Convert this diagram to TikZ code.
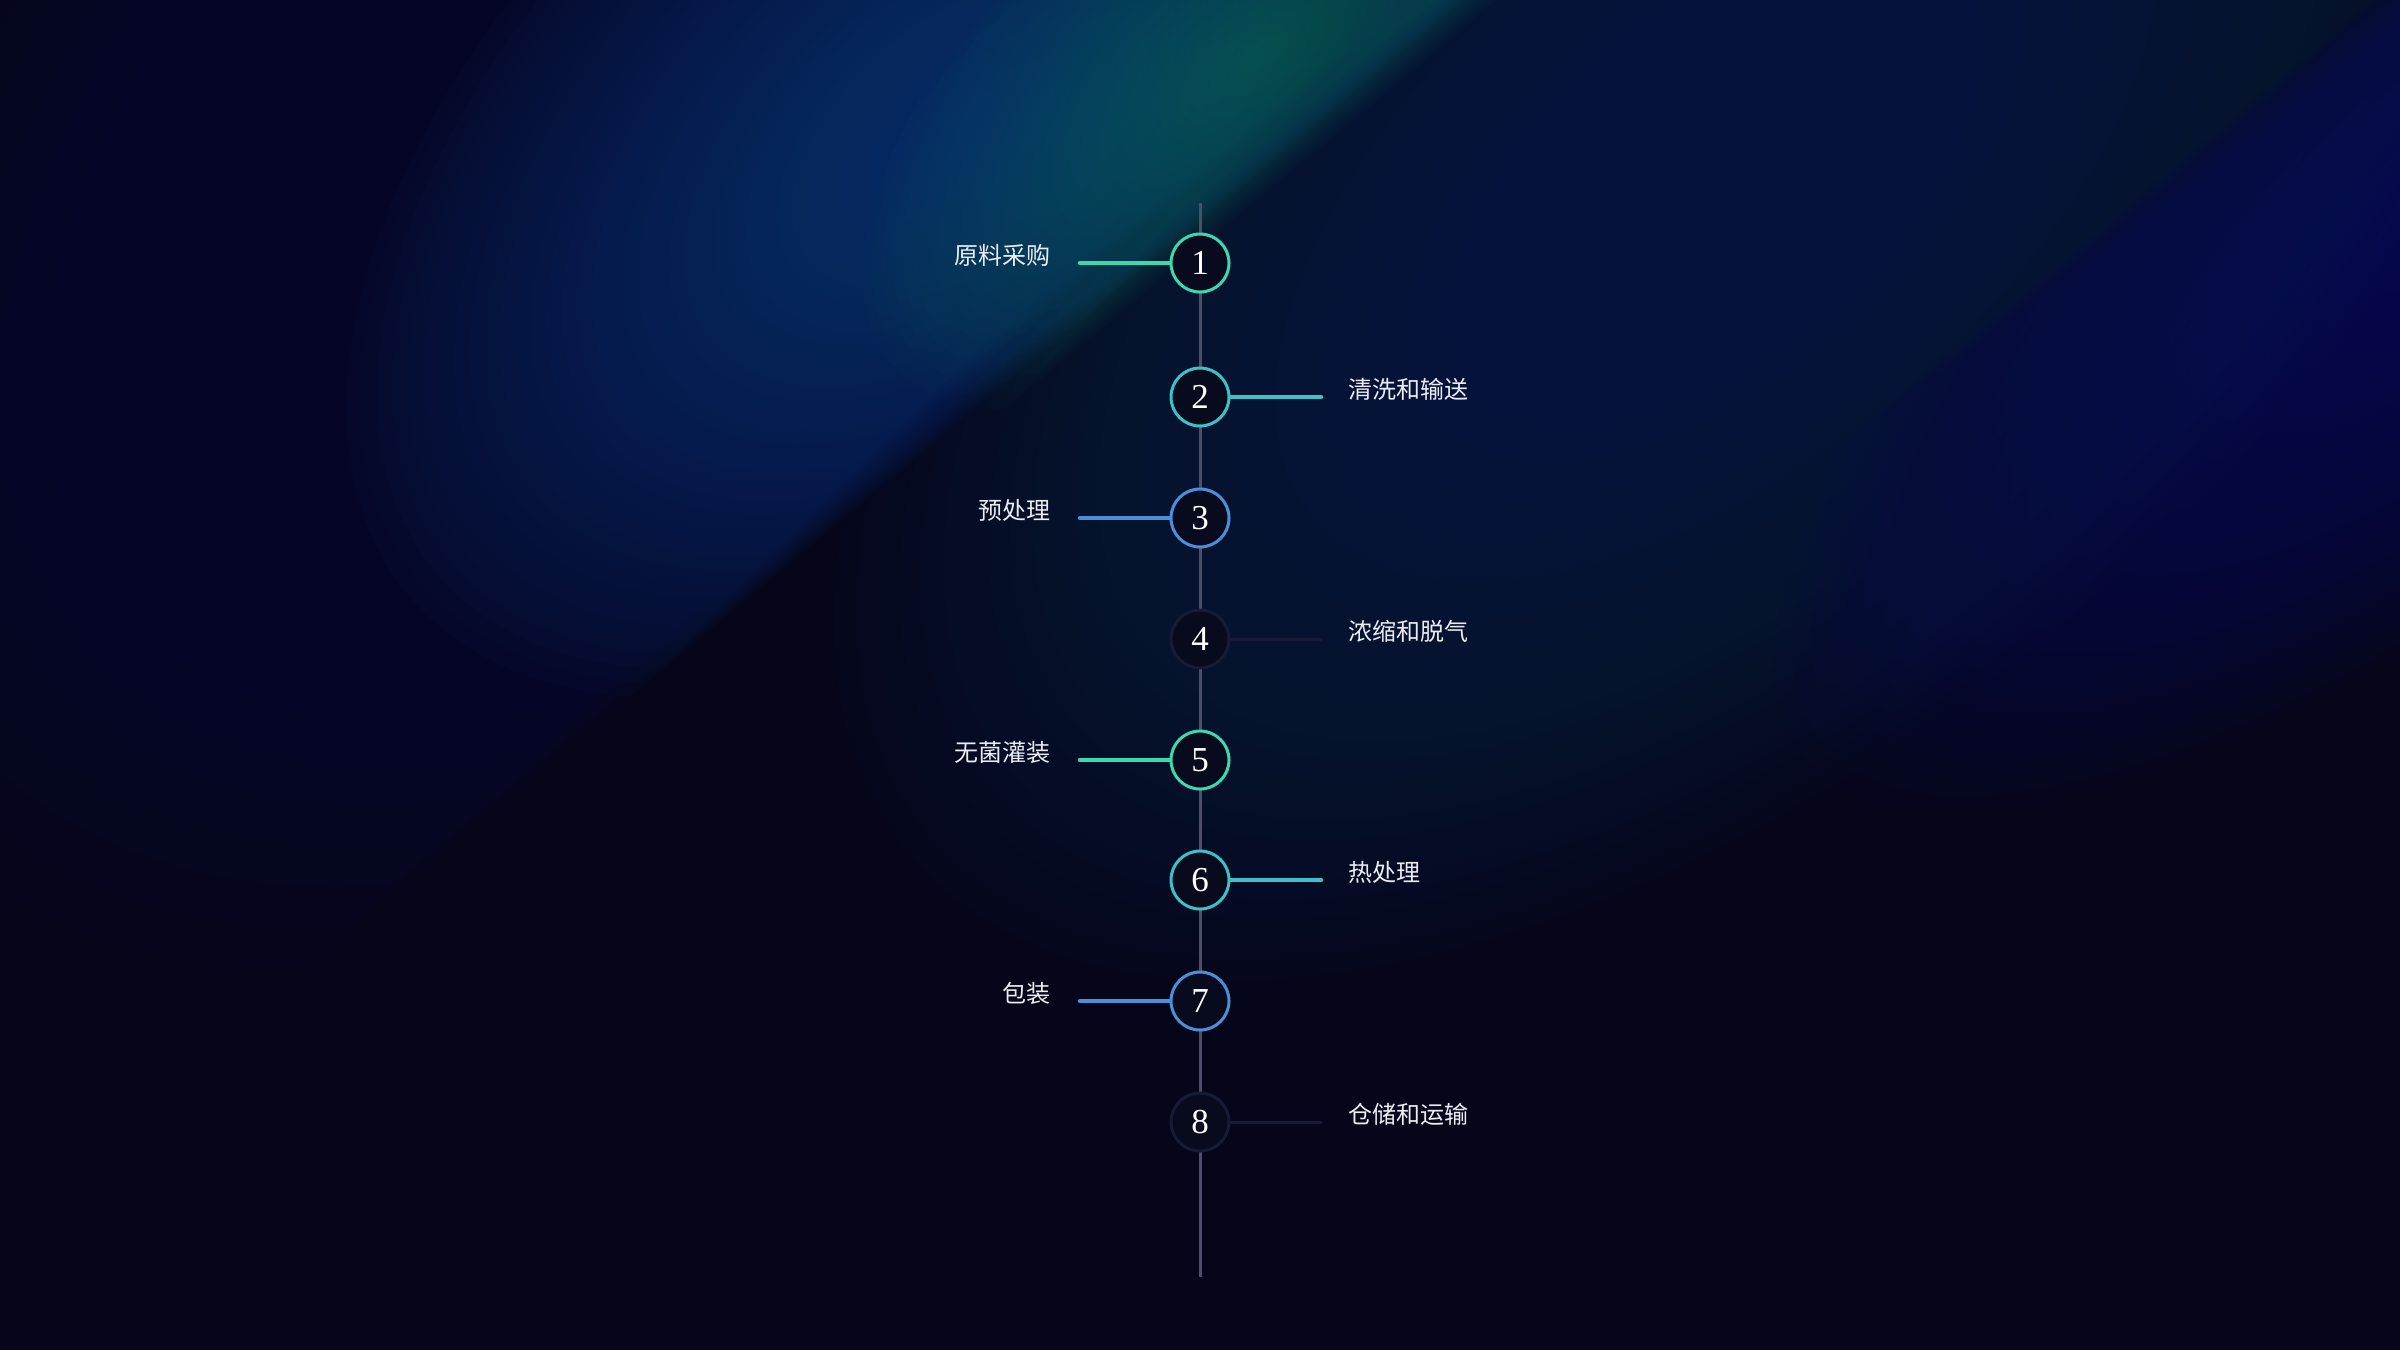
\documentclass[tikz,border=0pt]{standalone}
\usepackage{fontspec}
\newfontfamily\cjk{Noto Sans CJK SC}
\newfontfamily\numfont{Liberation Serif}
\definecolor{bgbase}{HTML}{05061A}
\definecolor{glowblue}{HTML}{0A4385}
\definecolor{glowteal}{HTML}{13776E}
\definecolor{glownavy}{HTML}{0E2C55}
\definecolor{glowwash}{HTML}{0C2246}
\definecolor{glowindigo}{HTML}{0A0C68}
\definecolor{cgreen}{HTML}{3DD8AE}
\definecolor{ccyan}{HTML}{3CC2C6}
\definecolor{cblue}{HTML}{4B8FD8}
\definecolor{cdim}{HTML}{161B36}
\definecolor{nodefill}{HTML}{080A1E}
\definecolor{spinecol}{HTML}{4D4F68}
\definecolor{lblcol}{HTML}{ECEDF3}
% soft glow: #1,#2 centre (u,v); #3,#4 semi-axes; #5 colour; #6 opacity; #7 clip v-min; #8 clip v-max
\newcommand\softglow[8]{%
  \foreach \k in {1,...,40}{%
    \begin{scope}
      \clip (-4000,{#7}) rectangle (4000,{#8});
      \fill[#5, fill opacity=#6] (#1,#2) ellipse ({#3pt/40*\k} and {#4pt/40*\k});
    \end{scope}}}
\begin{document}
\begin{tikzpicture}[x=1pt,y=-1pt,
  stepnode/.style={circle, minimum size=58pt, inner sep=0pt, line width=3pt, fill=nodefill, text=white, font=\numfont\fontsize{35}{35}\selectfont},
  conn/.style={line width=4.5pt, line cap=round},
  dimconn/.style={line width=3pt, line cap=round, cdim},
  spine/.style={line width=3pt, spinecol},
  lbl/.style={text=lblcol, font=\cjk\fontsize{24}{28}\selectfont, inner sep=0pt}]
\useasboundingbox (0,0) rectangle (2400,1350);
\begin{scope}
\clip (0,0) rectangle (2400,1350);
\fill[bgbase] (0,0) rectangle (2400,1350);
% background glows in a frame along the diagonal (u up-right, v down-right)
\begin{scope}[shift={(1435,0)}, rotate=39.8]
  % band between the two diagonals
  \softglow{100}{320}{1050}{560}{glownavy}{0.04}{-40+40*\k/40}{4000}
  % faint navy wash, upper left
  \softglow{-700}{-380}{1000}{650}{glowwash}{0.03}{-4000}{-60+80*\k/40}
  % indigo, right of second diagonal
  \softglow{700}{820}{900}{330}{glowindigo}{0.04}{680-80*\k/40}{4000}
  % blue, left of first diagonal
  \softglow{-450}{-200}{720}{420}{glowblue}{0.037}{-4000}{-60+80*\k/40}
  % teal near the top
  \softglow{-170}{-70}{480}{230}{glowteal}{0.028}{-4000}{-40+80*\k/40}
\end{scope}
\end{scope}
% spine
\coordinate (top) at (1200,203);
\coordinate (bot) at (1200,1277);
\draw[spine] (top) -- (bot);
% nodes
\node[stepnode, draw=cgreen] (n1) at (1200,263) {1};
\node[stepnode, draw=ccyan]  (n2) at (1200,397) {2};
\node[stepnode, draw=cblue]  (n3) at (1200,518) {3};
\node[stepnode, draw=cdim]   (n4) at (1200,639) {4};
\node[stepnode, draw=cgreen] (n5) at (1200,760) {5};
\node[stepnode, draw=ccyan]  (n6) at (1200,880) {6};
\node[stepnode, draw=cblue]  (n7) at (1200,1001) {7};
\node[stepnode, draw=cdim]   (n8) at (1200,1122) {8};
% connector ends
\coordinate (e1) at (1080,263);
\coordinate (e2) at (1321,397);
\coordinate (e3) at (1080,518);
\coordinate (e4) at (1321,639);
\coordinate (e5) at (1080,760);
\coordinate (e6) at (1321,880);
\coordinate (e7) at (1080,1001);
\coordinate (e8) at (1321,1122);
\draw[conn, cgreen] (n1.west) -- (e1);
\draw[conn, ccyan]  (n2.east) -- (e2);
\draw[conn, cblue]  (n3.west) -- (e3);
\draw[dimconn]      (n4.east) -- (e4);
\draw[conn, cgreen] (n5.west) -- (e5);
\draw[conn, ccyan]  (n6.east) -- (e6);
\draw[conn, cblue]  (n7.west) -- (e7);
\draw[dimconn]      (n8.east) -- (e8);
% labels
\node[lbl, anchor=east] (t1) at (1051,255) {原料采购};
\node[lbl, anchor=west] (t2) at (1348,389) {清洗和输送};
\node[lbl, anchor=east] (t3) at (1051,510) {预处理};
\node[lbl, anchor=west] (t4) at (1348,631) {浓缩和脱气};
\node[lbl, anchor=east] (t5) at (1051,752) {无菌灌装};
\node[lbl, anchor=west] (t6) at (1348,872) {热处理};
\node[lbl, anchor=east] (t7) at (1051,993) {包装};
\node[lbl, anchor=west] (t8) at (1348,1114) {仓储和运输};
\end{tikzpicture}
\end{document}
